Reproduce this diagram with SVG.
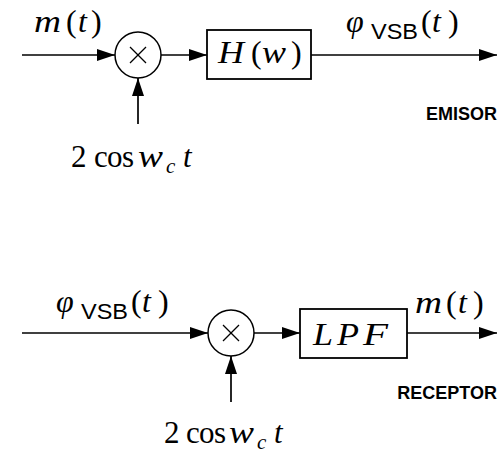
<svg xmlns="http://www.w3.org/2000/svg" width="499" height="454" viewBox="0 0 499 454">
<defs>
<marker id="ah" markerUnits="userSpaceOnUse" markerWidth="18" markerHeight="12" refX="18" refY="6" orient="auto">
<path d="M0,0 L18,6 L0,12 z" fill="#000"/>
</marker>
<style>
.ln{stroke:#000;stroke-width:1.5;fill:none}
.ar{stroke:#000;stroke-width:1.7;fill:none;marker-end:url(#ah)}
.bx{stroke:#000;stroke-width:1.8;fill:#fff}
.x{stroke:#000;stroke-width:1.2}
.m{font-family:"Liberation Serif",serif;font-size:32px;fill:#000}
.i{font-style:italic}
.s{font-family:"Liberation Sans",sans-serif;font-size:22px;fill:#000}
.lab{font-family:"Liberation Sans",sans-serif;font-size:18px;font-weight:bold;fill:#000;text-anchor:end}
</style>
</defs>
<rect width="499" height="454" fill="#fff"/>
<g id="connectors">
<line class="ar" x1="22" y1="55" x2="115" y2="55"/>
<line class="ar" x1="161" y1="55" x2="207" y2="55"/>
<line class="ar" x1="311" y1="55" x2="497" y2="55"/>
<line class="ar" x1="138" y1="124" x2="138" y2="78"/>
<line class="ar" x1="22" y1="333" x2="208" y2="333"/>
<line class="ar" x1="254" y1="333" x2="300" y2="333"/>
<line class="ar" x1="407" y1="333" x2="497" y2="333"/>
<line class="ar" x1="231" y1="402" x2="231" y2="356"/>
</g>
<g id="mult1">
<circle class="ln" cx="138" cy="55" r="23"/>
<line class="x" x1="130" y1="47" x2="146" y2="63"/>
<line class="x" x1="146" y1="47" x2="130" y2="63"/>
</g>
<g id="filterH">
<rect class="bx" x="207" y="30" width="104" height="49"/>
<text class="m" y="63"><tspan class="i" x="218" textLength="26" lengthAdjust="spacingAndGlyphs">H</tspan><tspan x="251">(</tspan><tspan class="i" x="262" textLength="24" lengthAdjust="spacingAndGlyphs">w</tspan><tspan x="291">)</tspan></text>
</g>
<g id="mult2">
<circle class="ln" cx="231" cy="333" r="23"/>
<line class="x" x1="223" y1="325" x2="239" y2="341"/>
<line class="x" x1="239" y1="325" x2="223" y2="341"/>
</g>
<g id="lpf">
<rect class="bx" x="300" y="309" width="107" height="49"/>
<text class="m i" y="345"><tspan x="313" textLength="20" lengthAdjust="spacingAndGlyphs">L</tspan><tspan x="337" textLength="22" lengthAdjust="spacingAndGlyphs">P</tspan><tspan x="363" textLength="25" lengthAdjust="spacingAndGlyphs">F</tspan></text>
</g>
<g id="labels">
<text class="m" y="32"><tspan class="i" x="34" textLength="27" lengthAdjust="spacingAndGlyphs">m</tspan><tspan x="66">(</tspan><tspan class="i" x="78">t</tspan><tspan x="91">)</tspan></text>
<text class="m i" x="346" y="32">φ</text>
<text class="s" x="371" y="39" textLength="47" lengthAdjust="spacingAndGlyphs">VSB</text>
<text class="m" y="32"><tspan x="421">(</tspan><tspan class="i" x="432">t</tspan><tspan x="448">)</tspan></text>
<text class="m" style="font-size:31px" y="167"><tspan x="71">2</tspan><tspan x="94" textLength="40" lengthAdjust="spacing">cos</tspan><tspan class="i" x="138" textLength="25" lengthAdjust="spacingAndGlyphs">w</tspan></text>
<text class="m i" x="166" y="173" style="font-size:21px">c</text>
<text class="m i" x="183" y="167" style="font-size:31px">t</text>
<text class="lab" x="497" y="120">EMISOR</text>
<text class="m i" x="56" y="312">φ</text>
<text class="s" x="81" y="319" textLength="47" lengthAdjust="spacingAndGlyphs">VSB</text>
<text class="m" y="312"><tspan x="131">(</tspan><tspan class="i" x="142">t</tspan><tspan x="158">)</tspan></text>
<text class="m" y="313"><tspan class="i" x="415" textLength="27" lengthAdjust="spacingAndGlyphs">m</tspan><tspan x="446">(</tspan><tspan class="i" x="458">t</tspan><tspan x="473">)</tspan></text>
<text class="m" style="font-size:31px" y="443"><tspan x="164">2</tspan><tspan x="186" textLength="40" lengthAdjust="spacing">cos</tspan><tspan class="i" x="229" textLength="25" lengthAdjust="spacingAndGlyphs">w</tspan></text>
<text class="m i" x="257" y="449" style="font-size:21px">c</text>
<text class="m i" x="274" y="443" style="font-size:31px">t</text>
<text class="lab" x="497" y="399">RECEPTOR</text>
</g>
</svg>
